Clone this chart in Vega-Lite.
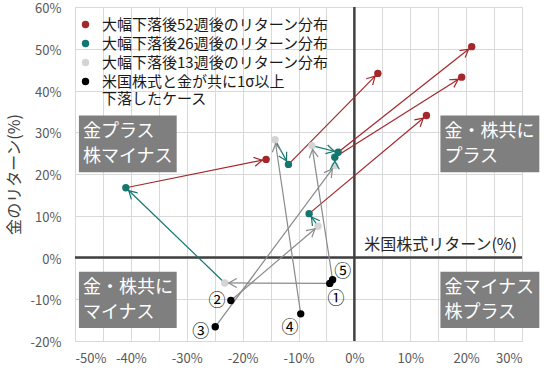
{
  "$schema": "https://vega.github.io/schema/vega-lite/v6.json",
  "width": 447,
  "height": 334,
  "autosize": {"type": "none"},
  "padding": {"left": 75, "top": 7, "right": 28, "bottom": 30},
  "background": "white",
  "config": {
    "font": "Noto Sans CJK JP",
    "view": {"stroke": "#d9d9d9", "strokeWidth": 1},
    "axis": {
      "grid": true,
      "gridColor": "#d9d9d9",
      "gridWidth": 1,
      "domain": false,
      "ticks": false,
      "labelColor": "#595959",
      "labelFontSize": 13,
      "labelFont": "Noto Sans CJK JP",
      "labelExpr": "datum.value + '%'",
      "titleFontSize": 16,
      "titleColor": "#404040",
      "titleFontWeight": "normal",
      "titleFont": "Noto Sans CJK JP"
    },
    "axisX": {"values": [-50, -40, -30, -20, -10, 0, 10, 20, 30], "labelPadding": 11},
    "axisY": {"values": [-20, -10, 0, 10, 20, 30, 40, 50, 60], "labelPadding": 14, "titlePadding": 8, "labelOffset": 1.5},
    "legend": {
      "orient": "none",
      "legendX": 3,
      "legendY": 10,
      "padding": 0,
      "labelFontSize": 15,
      "labelColor": "#1a1a1a",
      "labelLimit": 400,
      "labelOffset": 9,
      "rowPadding": 3,
      "symbolSize": 55,
      "symbolStrokeWidth": 0,
      "symbolType": "circle"
    }
  },
  "datasets": {
    "pts": [
      {"case": 1, "weeks": 0, "x": -4.4, "y": -6.2},
      {"case": 1, "weeks": 13, "x": -23.2, "y": -6.1},
      {"case": 1, "weeks": 26, "x": -40.9, "y": 16.7},
      {"case": 1, "weeks": 52, "x": -15.8, "y": 23.5},
      {"case": 2, "weeks": 0, "x": -22.1, "y": -10.3},
      {"case": 2, "weeks": 13, "x": -6.5, "y": 7.5},
      {"case": 2, "weeks": 26, "x": -8.1, "y": 10.5},
      {"case": 2, "weeks": 52, "x": 12.9, "y": 34.0},
      {"case": 3, "weeks": 0, "x": -24.9, "y": -16.6},
      {"case": 3, "weeks": 13, "x": -3.5, "y": 22.0},
      {"case": 3, "weeks": 26, "x": -3.5, "y": 24.0},
      {"case": 3, "weeks": 52, "x": 19.2, "y": 43.2},
      {"case": 4, "weeks": 0, "x": -9.6, "y": -13.5},
      {"case": 4, "weeks": 13, "x": -14.2, "y": 28.2},
      {"case": 4, "weeks": 26, "x": -11.8, "y": 22.3},
      {"case": 4, "weeks": 52, "x": 4.2, "y": 44.1},
      {"case": 5, "weeks": 0, "x": -3.9, "y": -5.3},
      {"case": 5, "weeks": 13, "x": -7.6, "y": 26.8},
      {"case": 5, "weeks": 26, "x": -2.9, "y": 25.2},
      {"case": 5, "weeks": 52, "x": 21.0, "y": 50.5}
    ],
    "boxes": [
      {"label": "金プラス\n株マイナス", "x1": -49.3, "x2": -31.8, "y1": 34.0, "y2": 20.4},
      {"label": "金・株共に\nプラス", "x1": 15.4, "x2": 33.1, "y1": 34.0, "y2": 20.4},
      {"label": "金・株共に\nマイナス", "x1": -49.3, "x2": -31.8, "y1": -3.4, "y2": -16.9},
      {"label": "金マイナス\n株プラス", "x1": 15.4, "x2": 33.1, "y1": -3.4, "y2": -16.9}
    ],
    "nums": [
      {"label": "①", "x": -3.3, "y": -9.9},
      {"label": "②", "x": -24.6, "y": -10.5},
      {"label": "③", "x": -27.5, "y": -17.9},
      {"label": "④", "x": -11.5, "y": -16.8},
      {"label": "⑤", "x": -2.1, "y": -3.4}
    ],
    "xtitle": [
      {"label": "米国株式リターン(%)", "x": 29.1, "y": 2.9}
    ]
  },
  "layer": [
    {
      "data": {"name": "boxes"},
      "mark": {"type": "rect", "color": "#7f7f7f"},
      "encoding": {
        "x": {"field": "x1", "type": "quantitative", "scale": {"domain": [-50, 30], "nice": false, "zero": false}, "title": null},
        "x2": {"field": "x2"},
        "y": {"field": "y1", "type": "quantitative", "scale": {"domain": [-20, 60], "nice": false, "zero": false}, "title": "金のリターン(%)"},
        "y2": {"field": "y2"}
      }
    },
    {
      "data": {"name": "boxes"},
      "mark": {"type": "text", "align": "left", "baseline": "top", "dx": 4, "dy": 7, "fontSize": 18, "color": "white", "lineBreak": "\n", "lineHeight": 25},
      "encoding": {
        "x": {"field": "x1", "type": "quantitative", "title": null},
        "y": {"field": "y1", "type": "quantitative", "title": "金のリターン(%)"},
        "text": {"field": "label"}
      }
    },
    {
      "data": {"values": [{}]},
      "mark": {"type": "rule", "color": "#404040", "strokeWidth": 2.5},
      "encoding": {"x": {"datum": 0, "type": "quantitative", "title": null}}
    },
    {
      "data": {"values": [{}]},
      "mark": {"type": "rule", "color": "#404040", "strokeWidth": 2.5},
      "encoding": {"y": {"datum": 0, "type": "quantitative", "title": "金のリターン(%)"}}
    },
    {
      "data": {"name": "pts"},
      "transform": [
        {"window": [{"op": "lag", "field": "x", "as": "px"}, {"op": "lag", "field": "y", "as": "py"}], "groupby": ["case"], "sort": [{"field": "weeks"}]},
        {"filter": "datum.px != null"}
      ],
      "mark": {"type": "rule", "strokeWidth": 1.2},
      "encoding": {
        "x": {"field": "px", "type": "quantitative", "title": null},
        "y": {"field": "py", "type": "quantitative", "title": "金のリターン(%)"},
        "x2": {"field": "x"},
        "y2": {"field": "y"},
        "stroke": {"field": "weeks", "type": "nominal", "scale": {"domain": [13, 26, 52], "range": ["#8a8a8a", "#13776f", "#a3282b"]}, "legend": null}
      }
    },
    {
      "data": {"name": "pts"},
      "mark": {"type": "point", "filled": true, "size": 55, "strokeWidth": 0, "shape": "circle", "opacity": 1},
      "encoding": {
        "x": {"field": "x", "type": "quantitative", "title": null},
        "y": {"field": "y", "type": "quantitative", "title": "金のリターン(%)"},
        "fill": {
          "field": "weeks", "type": "nominal",
          "scale": {"domain": [52, 26, 13, 0], "range": ["#a3282b", "#13776f", "#d4d4d4", "#000000"]},
          "legend": {
            "title": null,
            "labelExpr": "datum.value == 52 ? '大幅下落後52週後のリターン分布' : datum.value == 26 ? '大幅下落後26週後のリターン分布' : datum.value == 13 ? '大幅下落後13週後のリターン分布' : ['米国株式と金が共に1σ以上', '下落したケース']",
            "encode": {"labels": {"update": {"lineHeight": {"value": 18}}}}
          }
        }
      }
    },
    {
      "data": {"name": "pts"},
      "transform": [
        {"window": [{"op": "lag", "field": "x", "as": "px"}, {"op": "lag", "field": "y", "as": "py"}], "groupby": ["case"], "sort": [{"field": "weeks"}]},
        {"filter": "datum.px != null"},
        {"calculate": "atan2(-(datum.y - datum.py) * 4.175, (datum.x - datum.px) * 5.5875) * 180 / PI", "as": "ang"}
      ],
      "mark": {"type": "point", "shape": "M-2.4,-0.9L-0.8,0L-2.4,0.9", "filled": false, "size": 100, "strokeWidth": 1.2, "opacity": 1},
      "encoding": {
        "x": {"field": "x", "type": "quantitative", "title": null},
        "y": {"field": "y", "type": "quantitative", "title": "金のリターン(%)"},
        "stroke": {"field": "weeks", "type": "nominal", "legend": null},
        "angle": {"field": "ang", "type": "quantitative", "scale": null}
      }
    },
    {
      "data": {"name": "nums"},
      "mark": {"type": "text", "fontSize": 17, "color": "#000000", "align": "center", "baseline": "middle"},
      "encoding": {
        "x": {"field": "x", "type": "quantitative", "title": null},
        "y": {"field": "y", "type": "quantitative", "title": "金のリターン(%)"},
        "text": {"field": "label"}
      }
    },
    {
      "data": {"name": "xtitle"},
      "mark": {"type": "text", "fontSize": 16, "color": "#262626", "align": "right", "baseline": "middle"},
      "encoding": {
        "x": {"field": "x", "type": "quantitative", "title": null},
        "y": {"field": "y", "type": "quantitative", "title": "金のリターン(%)"},
        "text": {"field": "label"}
      }
    }
  ]
}
